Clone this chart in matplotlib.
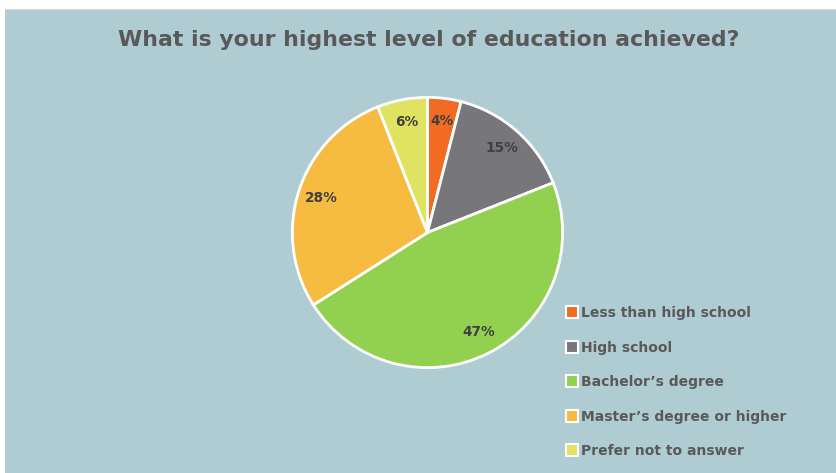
import matplotlib.pyplot as plt
from matplotlib.lines import Line2D

categories = ["Less than high school", "High school", "Bachelor\u2019s degree",
              "Master\u2019s degree or higher", "Prefer not to answer"]
shares = [4, 15, 47, 28, 6]
colors = ["#F26B22", "#77777B", "#92D14F", "#F5BC41", "#E0E361"]
title = "What is your highest level of education achieved?"

W, H = 836, 473
plt.rcParams["font.family"] = ["DejaVu Sans"]
fig = plt.figure(figsize=(W / 100, H / 100), dpi=100, facecolor="white")

# background panel
bg = fig.add_axes([5 / W, 0, 1 - 5 / W, (H - 9) / H], zorder=0)
bg.set_facecolor("#AFCCD2")
bg.set_xticks([])
bg.set_yticks([])
for side, sp in bg.spines.items():
    sp.set_visible(side == "top")
bg.spines["top"].set_color("#D6D6D6")

fig.text(429 / W, 1 - 40 / H, title, ha="center", va="center",
         fontsize=15.8, fontweight="bold", color="#595959", zorder=2)

cx, cy, r = 427.5, 232.5, 136.5
ax = fig.add_axes([(cx - r) / W, (H - cy - r) / H, 2 * r / W, 2 * r / H], zorder=1)
ax.axis("off")
wedges, _, autotexts = ax.pie(
    shares, colors=colors, startangle=90, counterclock=False, radius=1,
    autopct=lambda p: f"{p:.0f}%", pctdistance=0.83,
    wedgeprops=dict(edgecolor="white", linewidth=2),
    textprops=dict(fontsize=9.8, fontweight="bold", color="#404040"))
ax.set_xlim(-1.01, 1.01)
ax.set_ylim(-1.01, 1.01)

handles = [Line2D([], [], marker="s", linestyle="none", markersize=8,
                  markerfacecolor=c, markeredgecolor="white", markeredgewidth=1.5)
           for c in colors]
leg = fig.legend(handles, categories, loc="upper left",
                 bbox_to_anchor=(567 / W, 1 - 306 / H), frameon=False,
                 prop=dict(size=10, weight="bold"), labelcolor="#595959",
                 handlelength=0.7, handletextpad=0.3, labelspacing=1.48,
                 borderpad=0, borderaxespad=0)
leg.set_zorder(2)

fig.savefig("out.png", dpi=100, facecolor="white")
